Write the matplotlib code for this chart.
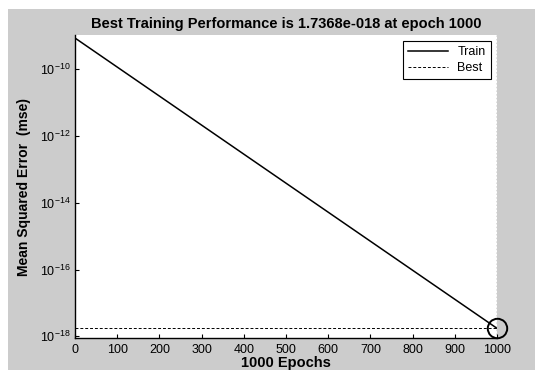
import matplotlib
matplotlib.use('Agg')
import matplotlib.pyplot as plt
from matplotlib.patches import Rectangle

plt.rcParams['font.family'] = ['Liberation Sans', 'DejaVu Sans']
plt.rcParams['mathtext.default'] = 'regular'

# 训练曲线数据
epochs = [0, 1000]
train_mse = [8.5e-10, 1.7368e-18]
best_epoch = 1000
best_mse = 1.7368e-18
x_ticks = [0, 100, 200, 300, 400, 500, 600, 700, 800, 900, 1000]
y_ticks = [1e-18, 1e-16, 1e-14, 1e-12, 1e-10]

fig = plt.figure(figsize=(5.35, 3.70), dpi=100)
fig.patch.set_facecolor('white')
# 灰色背景（上方和左侧留一点白边）
fig.patches.append(Rectangle((8 / 535, 0), 1, 1 - 9 / 370, transform=fig.transFigure,
                             facecolor='#cccccc', edgecolor='none', zorder=-10))

ax = fig.add_axes([75 / 535, 32 / 370, 422 / 535, 303 / 370])
ax.set_facecolor('white')

ax.semilogy(epochs, train_mse, color='k', linewidth=1.1, label='Train')
ax.axhline(best_mse, color='k', linestyle='--', linewidth=0.7, dashes=(3, 2), label='Best')
ax.axvline(best_epoch, color='0.35', linestyle=':', linewidth=1.0)
ax.plot([best_epoch], [best_mse], 'o', markersize=14, markerfacecolor='none',
        markeredgecolor='k', markeredgewidth=1.4, clip_on=False)

ax.set_xlim(0, 1000)
ax.set_ylim(10 ** -18.05, 10 ** -8.98)
ax.set_xticks(x_ticks)
ax.set_yticks(y_ticks)
ax.minorticks_off()
ax.tick_params(direction='in', length=3, width=0.8, labelsize=9, pad=3)
ax.tick_params(axis='x', pad=4)

for s in ['top', 'right']:
    ax.spines[s].set_visible(False)
ax.spines['left'].set_linewidth(1.0)
ax.spines['bottom'].set_linewidth(1.0)

ax.set_title('Best Training Performance is 1.7368e-018 at epoch 1000',
             fontsize=10.5, fontweight='bold', pad=5)
ax.set_xlabel('1000 Epochs', fontsize=10.5, fontweight='bold', labelpad=0)
ax.set_ylabel('Mean Squared Error  (mse)', fontsize=10, fontweight='bold', labelpad=7)

leg = ax.legend(loc='upper right', fontsize=9, fancybox=False, framealpha=1,
                edgecolor='k', handlelength=3.2, borderaxespad=0.5, labelspacing=0.3)
leg.get_frame().set_linewidth(0.8)

fig.savefig('out.png', dpi=100, facecolor=fig.get_facecolor())
